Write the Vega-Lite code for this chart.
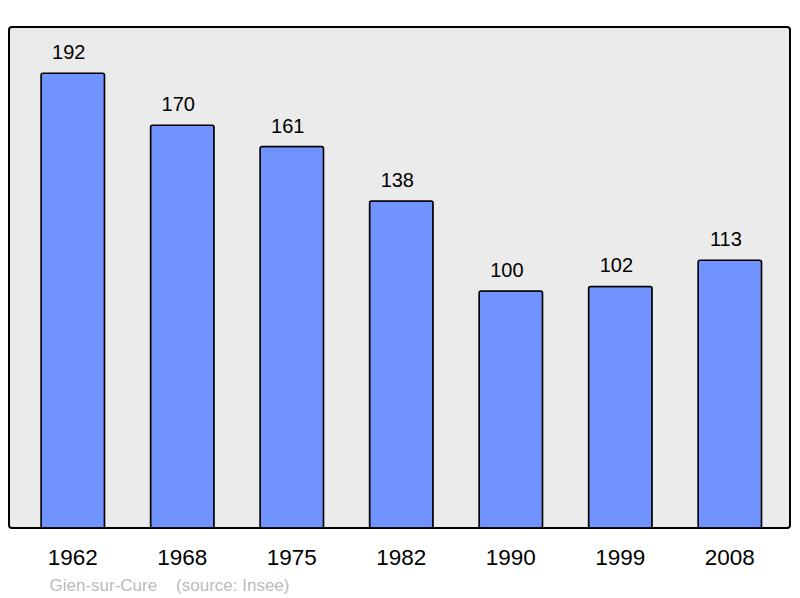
{
  "$schema": "https://vega.github.io/schema/vega-lite/v6.json",
  "width": 781,
  "height": 501,
  "autosize": {"type": "none"},
  "padding": {"left": 9, "top": 27, "right": 10, "bottom": 70},
  "background": "white",
  "config": {
    "view": {"fill": "#ebebeb", "stroke": "black", "strokeWidth": 2, "cornerRadius": 3},
    "font": "Liberation Sans"
  },
  "data": {
    "values": [
      {"year": "1962", "pop": 192},
      {"year": "1968", "pop": 170},
      {"year": "1975", "pop": 161},
      {"year": "1982", "pop": 138},
      {"year": "1990", "pop": 100},
      {"year": "1999", "pop": 102},
      {"year": "2008", "pop": 113}
    ]
  },
  "encoding": {
    "x": {
      "field": "year",
      "type": "nominal",
      "sort": null,
      "scale": {"paddingInner": 0.42, "paddingOuter": 0.276, "align": 0.53},
      "axis": {
        "title": "Gien-sur-Cure\u00a0\u00a0\u00a0\u00a0(source: Insee)",
        "titleFont": "Liberation Sans",
        "titleFontSize": 17,
        "titleFontWeight": "normal",
        "titleColor": "#bbbbbb",
        "titleAnchor": null,
        "titleAlign": "left",
        "titleBaseline": "alphabetic",
        "titleX": 40,
        "titleY": 62,
        "labelAngle": 0,
        "labelFontSize": 22.5,
        "labelColor": "black",
        "labelBaseline": "alphabetic",
        "labelPadding": 36,
        "ticks": false,
        "domain": false,
        "grid": false
      }
    },
    "y": {
      "field": "pop",
      "type": "quantitative",
      "scale": {"domain": [0, 211.5], "nice": false},
      "axis": null
    }
  },
  "layer": [
    {
      "mark": {"type": "bar", "fill": "#7093ff", "stroke": "black", "strokeWidth": 1.5, "cornerRadius": 2}
    },
    {
      "mark": {"type": "text", "baseline": "alphabetic", "dy": -14, "dx": -4, "fontSize": 20, "color": "black"},
      "encoding": {"text": {"field": "pop", "type": "quantitative"}}
    }
  ]
}
